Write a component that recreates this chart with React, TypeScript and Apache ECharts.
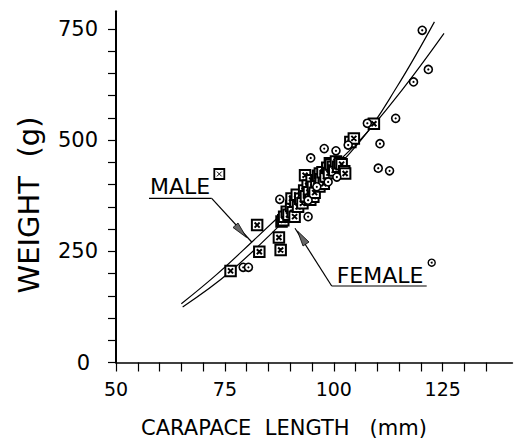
import React, { useEffect, useRef } from 'react';
import * as echarts from 'echarts';

// Axis ticks and labels
const xTickValues = [50, 55, 60, 65, 70, 75, 80, 85, 90, 95, 100, 105, 110, 115, 120, 125, 130, 135];
const xLabelValues = [50, 75, 100, 125];
const yTickValues = [0, 50, 100, 150, 200, 250, 300, 350, 400, 450, 500, 550, 600, 650, 700, 750];
const yLabelValues = [0, 250, 500, 750];

// Male specimens [carapace length mm, weight g]
const maleData = [
  [76.3, 206], [82.4, 309], [82.9, 249], [87.4, 281], [87.8, 253],
  [88.0, 317], [88.4, 320], [88.6, 328], [89.2, 339], [89.6, 332], [90.2, 352], [90.3, 369],
  [90.6, 338], [91.0, 328], [91.2, 362], [91.5, 377], [91.8, 350], [92.3, 368], [92.8, 358],
  [93.2, 387], [93.4, 421], [93.6, 374], [94.0, 398], [94.3, 383], [94.6, 366], [94.9, 410],
  [95.2, 395], [95.3, 373], [95.6, 382], [96.0, 406], [96.4, 420], [96.7, 396], [96.8, 425],
  [97.0, 412], [97.4, 428], [97.7, 402], [98.1, 418], [98.5, 438], [98.9, 426], [99.1, 448],
  [99.3, 445], [99.8, 440], [100.1, 432], [100.5, 452], [101.0, 440], [101.4, 448],
  [101.8, 446], [102.4, 430], [102.6, 425], [103.8, 496], [104.6, 504], [109.2, 537],
];

// Female specimens [carapace length mm, weight g]
const femaleData = [
  [79.2, 214], [80.4, 214], [87.6, 367], [94.1, 328], [94.1, 365], [96.1, 395], [98.7, 406],
  [94.7, 460], [97.8, 481], [100.5, 476], [103.3, 489], [100.7, 417], [107.7, 538],
  [110.6, 492], [110.2, 437], [112.8, 431], [114.2, 549], [118.3, 631], [121.7, 659],
  [120.3, 747],
];

// Fitted curves
const maleCurve = [[65, 132], [73, 197], [81.2, 271], [93, 380], [106, 500], [115.6, 612], [125.3, 740]];
const femaleCurve = [[65.3, 125], [76.2, 204], [91, 342], [106, 497], [114.5, 620], [123.1, 766]];

const FONT = '"DejaVu Sans", "Liberation Sans", sans-serif';
const SQUARE = 'path://M0,0L10,0L10,10L0,10Z M2.6,2.6L7.4,7.4 M7.4,2.6L2.6,7.4';

export default function App() {
  const ref = useRef<HTMLDivElement>(null);
  useEffect(() => {
    const chart = echarts.init(ref.current!, null, { renderer: 'svg' });
    const txt = (text: string, x: number, y: number, size: number, extra: any = {}) => ({
      type: 'text',
      x,
      y,
      silent: true,
      ...extra,
      style: {
        text,
        fontSize: size,
        fontFamily: FONT,
        fontWeight: 'normal',
        fill: '#000',
        align: extra.align || 'left',
        textAlign: extra.align || 'left',
        verticalAlign: 'middle',
        textVerticalAlign: 'middle',
      },
    });
    const ln = (x1: number, y1: number, x2: number, y2: number, w = 1.2) => ({
      type: 'line',
      silent: true,
      shape: { x1, y1, x2, y2 },
      style: { stroke: '#000', lineWidth: w },
    });
    chart.setOption({
      animation: false,
      backgroundColor: '#fff',
      grid: { left: 116, right: 5.6, top: 11.2, bottom: 80.5, containLabel: false, outerBoundsMode: 'none' },
      xAxis: {
        type: 'value',
        min: 50,
        max: 141,
        interval: 5,
        axisLine: { show: true, onZero: false, lineStyle: { color: '#000', width: 1.6 } },
        axisTick: { show: true, customValues: xTickValues, length: 9, lineStyle: { color: '#000', width: 1.2 } },
        axisLabel: { customValues: xLabelValues, margin: 17, fontSize: 19, color: '#000', fontFamily: FONT },
        splitLine: { show: false },
      },
      yAxis: {
        type: 'value',
        min: 0,
        max: 790,
        interval: 50,
        axisLine: { show: true, onZero: false, lineStyle: { color: '#000', width: 2 } },
        axisTick: { show: true, customValues: yTickValues, length: 8, lineStyle: { color: '#000', width: 1.2 } },
        axisLabel: {
          customValues: yLabelValues,
          margin: 18,
          fontSize: 21,
          color: '#000',
          fontFamily: FONT,
          formatter: (v: number) => (v === 0 ? '{z|0}' : String(v)),
          rich: { z: { fontSize: 21, fontFamily: FONT, color: '#000', padding: [0, 8, 0, 0] } },
        },
        splitLine: { show: false },
      },
      series: [
        {
          type: 'line', data: maleCurve, smooth: 0.4, showSymbol: false, silent: true, z: 2,
          lineStyle: { color: '#000', width: 1.2 },
        },
        {
          type: 'line', data: femaleCurve, smooth: 0.4, showSymbol: false, silent: true, z: 2,
          lineStyle: { color: '#000', width: 1.2 },
        },
        {
          type: 'scatter', data: maleData, symbol: SQUARE, symbolSize: 10.5, silent: true, z: 3,
          itemStyle: { color: '#fff', borderColor: '#000', borderWidth: 2, opacity: 1 },
        },
        {
          type: 'scatter', data: femaleData, symbol: 'circle', symbolSize: 8, silent: true, z: 4,
          itemStyle: { color: '#fff', borderColor: '#000', borderWidth: 1.6, opacity: 1 },
        },
        {
          type: 'scatter', data: femaleData, symbol: 'circle', symbolSize: 2.2, silent: true, z: 5,
          itemStyle: { color: '#000', opacity: 1 },
        },
      ],
      graphic: [
        txt('WEIGHT  (g)', 29, 205, 29, { rotation: Math.PI / 2, align: 'center' }),
        txt('CARAPACE  LENGTH   (mm)', 141, 428, 21),
        // MALE annotation
        txt('MALE', 150, 186, 22),
        ln(149, 198.3, 211.7, 198.3),
        ln(211.7, 198.3, 251.7, 242),
        {
          type: 'polygon', silent: true,
          shape: { points: [[246.5, 237.5], [233, 227.5], [238, 223]] },
          style: { fill: '#666', stroke: '#000', lineWidth: 0.8 },
        },
        {
          type: 'rect', silent: true,
          shape: { x: 214.3, y: 169, width: 10, height: 10 },
          style: { fill: '#fff', stroke: '#000', lineWidth: 1.8 },
        },
        ln(216.9, 171.6, 221.7, 176.4, 1),
        ln(221.7, 171.6, 216.9, 176.4, 1),
        // FEMALE annotation
        txt('FEMALE', 336.7, 275, 22),
        ln(331.7, 286, 426.7, 286),
        ln(331.7, 286, 295, 228.3),
        {
          type: 'polygon', silent: true,
          shape: { points: [[297.5, 231], [309, 242], [303, 246]] },
          style: { fill: '#666', stroke: '#000', lineWidth: 0.8 },
        },
        {
          type: 'circle', silent: true,
          shape: { cx: 431.7, cy: 262.7, r: 3.5 },
          style: { fill: '#fff', stroke: '#000', lineWidth: 1.4 },
        },
        {
          type: 'circle', silent: true,
          shape: { cx: 431.7, cy: 262.7, r: 1 },
          style: { fill: '#000' },
        },
      ],
    });
    return () => chart.dispose();
  }, []);
  return (
    <div
      ref={ref}
      style={{ position: 'fixed', left: 0, top: 0, width: 518, height: 443, background: '#fff' }}
    />
  );
}
